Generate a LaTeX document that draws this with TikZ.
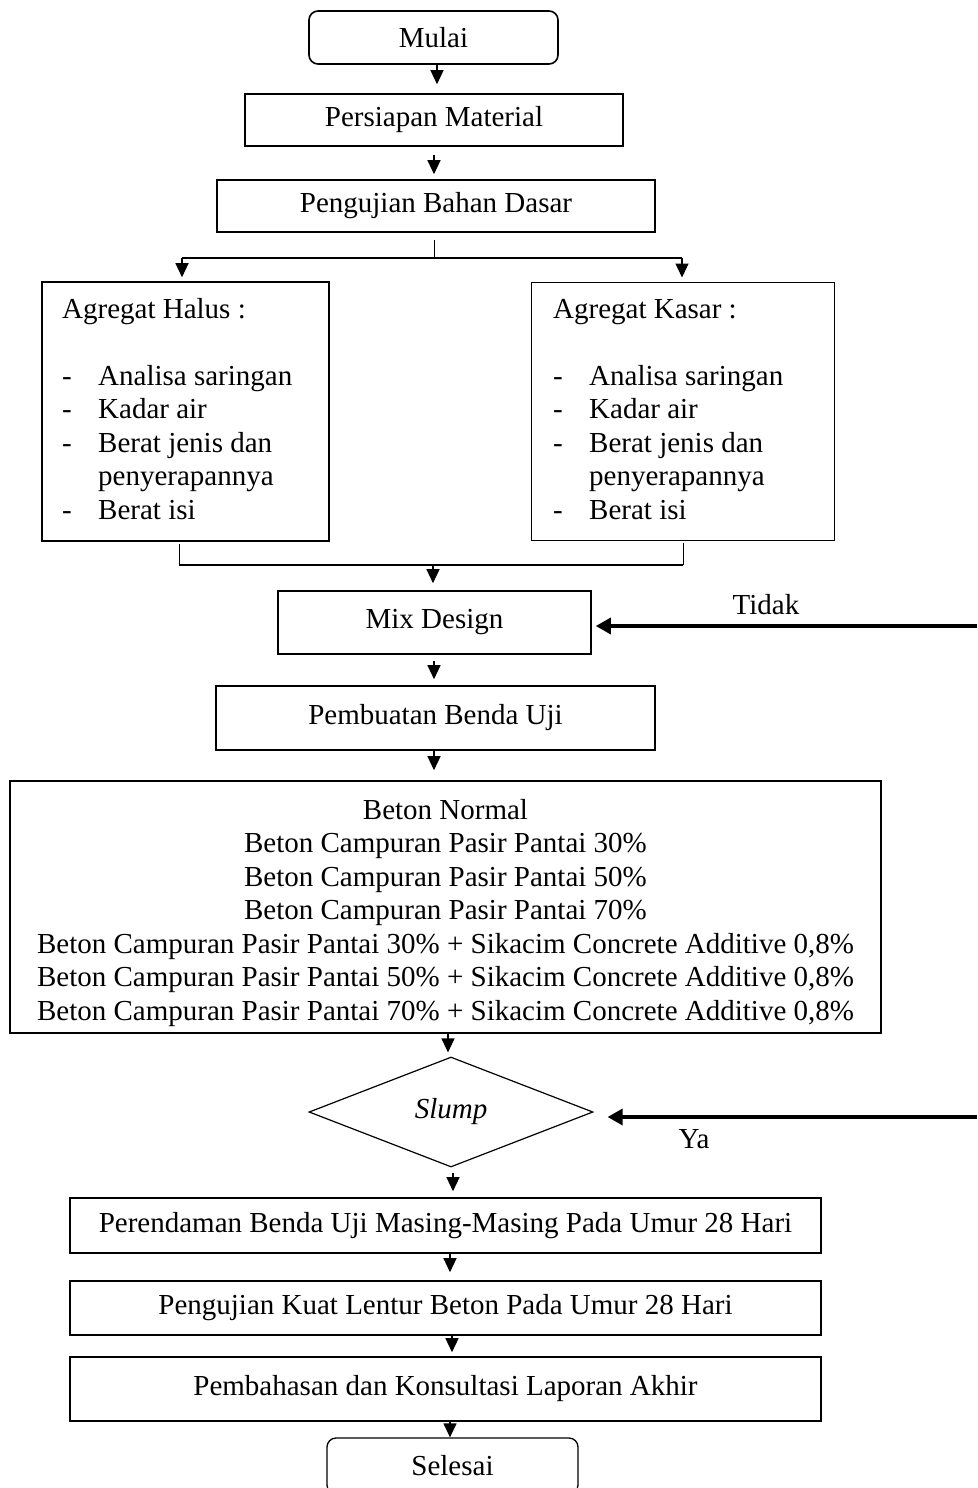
\documentclass[tikz,border=0pt]{standalone}
\usepackage{fontspec}
\setmainfont{Liberation Serif}
\usetikzlibrary{arrows.meta,shapes.geometric,calc}
\begin{document}
\begin{tikzpicture}[x=1pt,y=-1pt,
  every node/.style={font=\fontsize{29}{33.5}\selectfont},
  box/.style={draw,line width=1.6pt,inner sep=0pt,rectangle},
  rbox/.style={box,rounded corners=9pt},
  txt/.style={inner sep=0pt},
  conn/.style={line width=1.3pt},
  arr/.style={line width=1.3pt,-{Triangle[width=13pt,length=14pt]}},
  thickarr/.style={line width=3.4pt,-{Triangle[width=16pt,length=15pt]}}
]
\useasboundingbox (0,0) rectangle (977,1488);
\fill[white] (0,0) rectangle (977,1488);

% main column
\node[rbox,minimum width=249pt,minimum height=53pt] (mulai) at (433.5,37.5) {Mulai};
\node[box,minimum width=378pt,minimum height=52pt] (persiapan) at (434,120) {Persiapan Material};
\node[box,minimum width=438pt,minimum height=52pt] (pengujian) at (436,206) {Pengujian Bahan Dasar};

\node[box,minimum width=287pt,minimum height=259pt] (halus) at (185.5,411.5) {};
\node[txt,anchor=base west] (halustxt) at (62,318)
  {\begin{tabular}[t]{@{}p{36pt}@{}l@{}}
   \multicolumn{2}{@{}l@{}}{Agregat Halus :}\\
   \multicolumn{2}{@{}l@{}}{\strut}\\
   -&Analisa saringan\\
   -&Kadar air\\
   -&Berat jenis dan\\
    &penyerapannya\\
   -&Berat isi
   \end{tabular}};
\node[box,line width=1pt,minimum width=303pt,minimum height=258pt] (kasar) at (682.5,411) {};
\node[txt,anchor=base west] (kasartxt) at (553,318)
  {\begin{tabular}[t]{@{}p{36pt}@{}l@{}}
   \multicolumn{2}{@{}l@{}}{Agregat Kasar :}\\
   \multicolumn{2}{@{}l@{}}{\strut}\\
   -&Analisa saringan\\
   -&Kadar air\\
   -&Berat jenis dan\\
    &penyerapannya\\
   -&Berat isi
   \end{tabular}};

\node[box,minimum width=313pt,minimum height=63pt] (mix) at (434.5,622.5) {Mix Design};
\node[box,minimum width=439pt,minimum height=64pt] (pembuatan) at (435.5,718) {Pembuatan Benda Uji};

\node[box,minimum width=871pt,minimum height=252pt] (beton) at (445.5,907) {};
\node[txt,anchor=base] (betontxt) at (445.5,819)
  {\begin{tabular}[t]{@{}c@{}}
   Beton Normal\\
   Beton Campuran Pasir Pantai 30\%\\
   Beton Campuran Pasir Pantai 50\%\\
   Beton Campuran Pasir Pantai 70\%\\
   Beton Campuran Pasir Pantai 30\% + Sikacim Concrete Additive 0,8\%\\
   Beton Campuran Pasir Pantai 50\% + Sikacim Concrete Additive 0,8\%\\
   Beton Campuran Pasir Pantai 70\% + Sikacim Concrete Additive 0,8\%
   \end{tabular}};

\node[draw,diamond,line width=1.2pt,inner sep=0pt,minimum width=284pt,minimum height=110pt] (slump) at (451,1112) {\itshape Slump};

\node[box,minimum width=751pt,minimum height=55pt] (rendam) at (445.5,1225.5) {Perendaman Benda Uji Masing-Masing Pada Umur 28 Hari};
\node[box,minimum width=751pt,minimum height=54pt] (kuat) at (445.5,1308) {Pengujian Kuat Lentur Beton Pada Umur 28 Hari};
\node[box,minimum width=751pt,minimum height=64pt] (bahas) at (445.5,1389) {Pembahasan dan Konsultasi Laporan Akhir};
\node[rbox,line width=1.3pt,minimum width=251pt,minimum height=56pt] (selesai) at (452.5,1466) {Selesai};

% connectors in the main column
\draw[arr,shorten >=9pt] (mulai.south -| 437,0) -- (persiapan.north -| 437,0);
\draw[arr,shorten <=8pt,shorten >=5pt] (persiapan.south -| 434,0) -- (pengujian.north -| 434,0);

% split
\coordinate (sM) at (434,258);
\coordinate (sL) at (182,258);
\coordinate (sR) at (682,258);
\draw[conn,line width=1pt,shorten <=7pt] (pengujian.south -| sM) -- (sM);
\draw[conn] (sL) -- (sR);
\draw[arr,shorten >=4pt] (sL) -- (halus.north -| sL);
\draw[arr,shorten >=4pt] (sR) -- (kasar.north -| sR);

% merge
\coordinate (mL) at (179,565);
\coordinate (mR) at (683,565);
\coordinate (mM) at (433,565);
\draw[conn,line width=1pt,shorten <=2pt] (halus.south -| mL) -- (mL);
\draw[conn,line width=1pt,shorten <=2pt] (kasar.south -| mR) -- (mR);
\draw[conn,line width=2.6pt] (mL) -- (mR);
\draw[arr,shorten >=7pt] (mM) -- (mix.north -| mM);

\draw[arr,shorten <=6pt,shorten >=6pt] (mix.south -| 434,0) -- (pembuatan.north -| 434,0);
\draw[arr,shorten >=10pt] (pembuatan.south -| 434,0) -- (beton.north -| 434,0);
\draw[arr,shorten >=4pt] (beton.south -| 448,0) -- (slump.north -| 448,0);
\draw[arr,shorten <=5pt,shorten >=6pt] (slump.south -| 453,0) -- (rendam.north -| 453,0);
\draw[arr,shorten >=8pt] (rendam.south -| 450,0) -- (kuat.north -| 450,0);
\draw[arr,shorten >=4pt] (kuat.south -| 452,0) -- (bahas.north -| 452,0);
\draw[arr] (bahas.south -| 450,0) -- (selesai.north -| 450,0);

% feedback arrows from the right edge
\coordinate (tidakEnd) at (977,626);
\coordinate (yaEnd) at (977,1117);
\draw[thickarr,shorten >=4pt] (tidakEnd) -- (mix.east |- tidakEnd);
\draw[thickarr,shorten >=14pt] (yaEnd) -- (slump.east |- yaEnd);
\node[txt] (tidak) at (766,605) {Tidak};
\node[txt,anchor=base] (ya) at (694,1148) {Ya};
\end{tikzpicture}
\end{document}
